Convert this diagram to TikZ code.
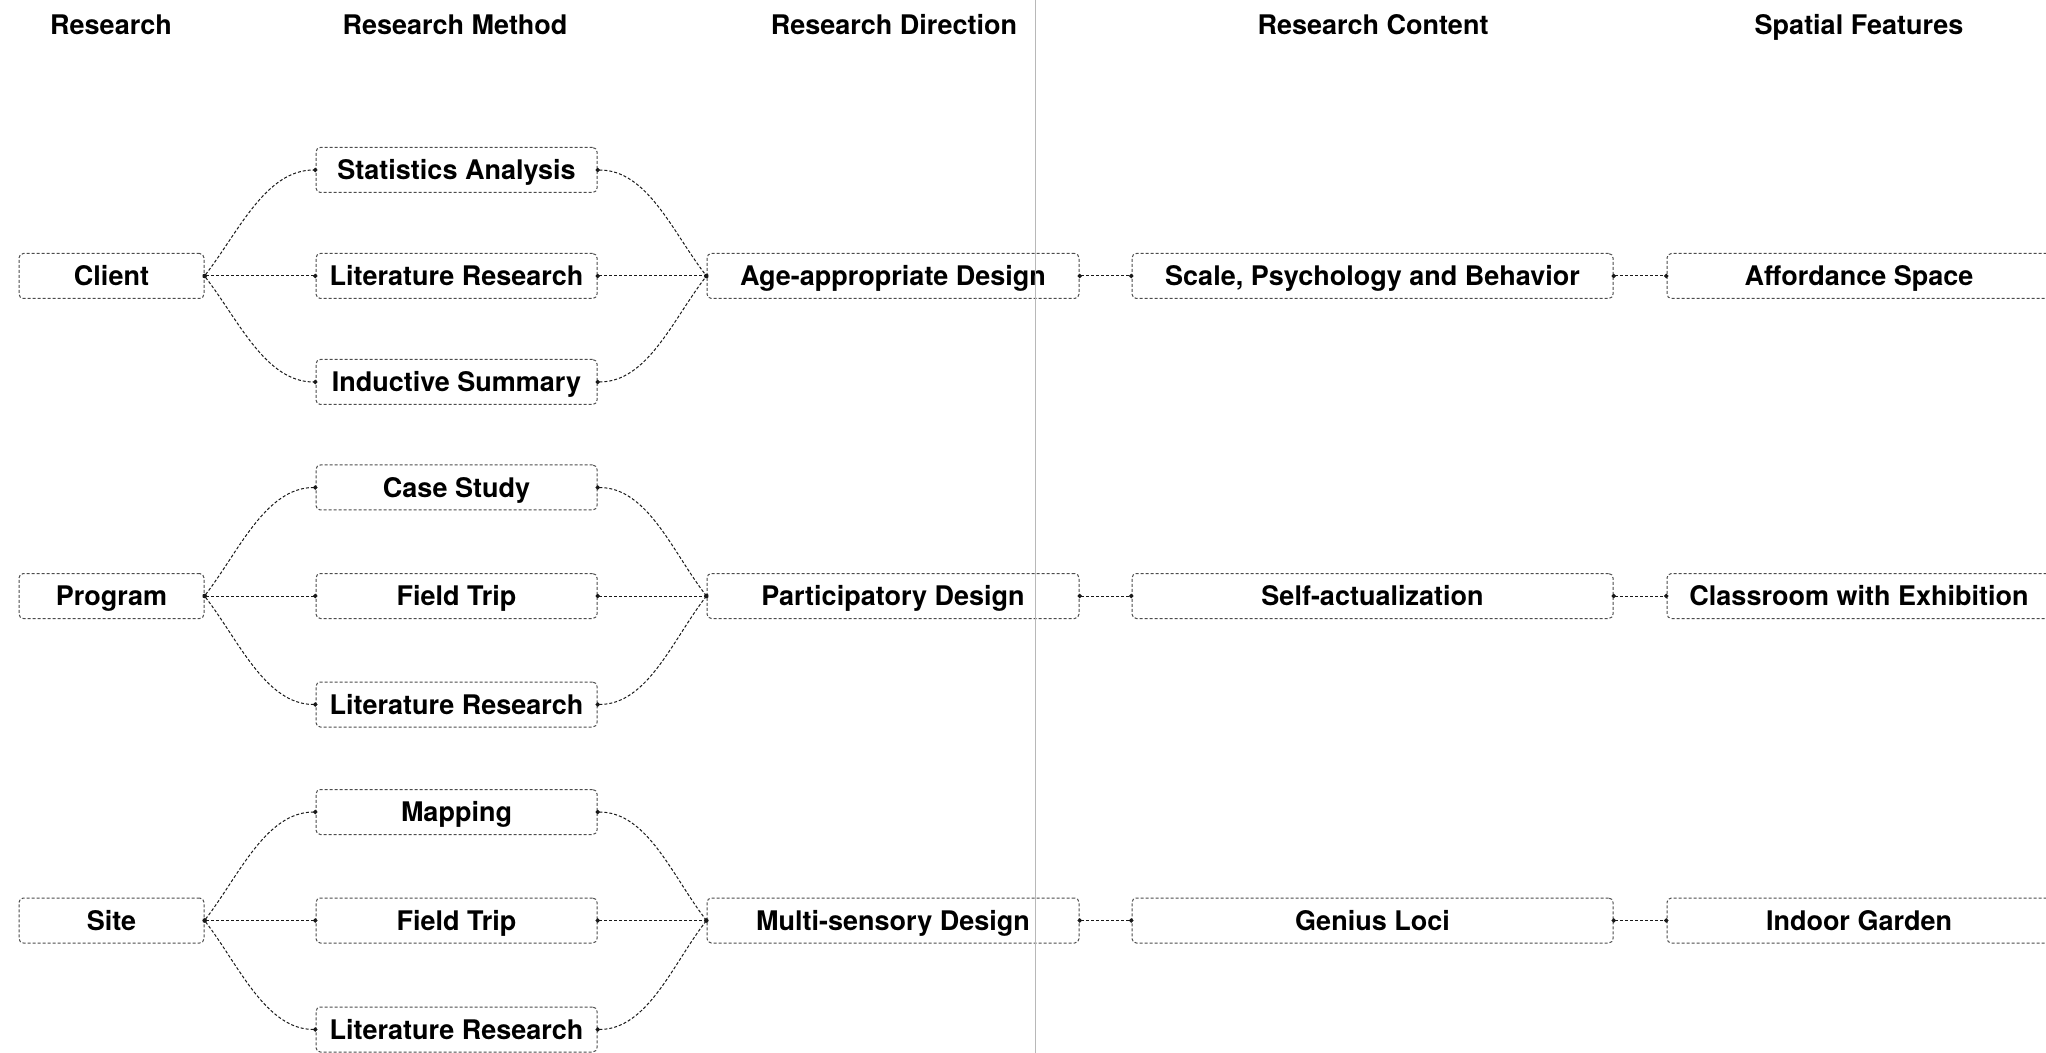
\documentclass[tikz,border=0pt]{standalone}
\usepackage{fontspec}
\setmainfont{TeX Gyre Heros}
\usetikzlibrary{arrows.meta}

\tikzset{
  lbl/.style={font=\bfseries\fontsize{13.5}{16}\selectfont, text=black,
              text height=11pt, text depth=1.3pt},
  box/.style={lbl, draw=black!70, line width=0.5pt, dash pattern=on 1.5pt off 1pt,
              rounded corners=2.2pt, minimum height=22.5pt, inner sep=0pt},
  colA/.style={box, minimum width=92.5pt},
  colB/.style={box, minimum width=140.5pt},
  colC/.style={box, minimum width=186pt},
  colD/.style={box, minimum width=240.5pt},
  colE/.style={box, minimum width=192pt},
  link/.style={draw=black!90, line width=0.5pt, dash pattern=on 1.5pt off 1pt,
               shorten <=-1pt, shorten >=-1pt,
               arrows={Circle[length=2.2pt]-Circle[length=2.2pt]}},
}

\begin{document}
\begin{tikzpicture}[x=0.5pt,y=-0.5pt]
\clip (0,0) rectangle (2046,1053);
\fill[white] (0,0) rectangle (2046,1053);

% column headings
\node[lbl] (h1) at (111,25) {Research};
\node[lbl] (h2) at (455,25) {Research Method};
\node[lbl] (h3) at (894,25) {Research Direction};
\node[lbl] (h4) at (1373,25) {Research Content};
\node[lbl] (h5) at (1859,25) {Spatial Features};

% research subjects
\node[colA] (cl) at (111.5,276) {Client};
\node[colA] (pr) at (111.5,596) {Program};
\node[colA] (si) at (111.5,920.5) {Site};

% methods
\node[colB] (m1) at (456.5,170) {Statistics Analysis};
\node[colB] (m2) at (456.5,276) {Literature Research};
\node[colB] (m3) at (456.5,382) {Inductive Summary};
\node[colB] (m4) at (456.5,487.5) {Case Study};
\node[colB] (m5) at (456.5,596) {Field Trip};
\node[colB] (m6) at (456.5,704.5) {Literature Research};
\node[colB] (m7) at (456.5,812) {Mapping};
\node[colB] (m8) at (456.5,920.5) {Field Trip};
\node[colB] (m9) at (456.5,1029.5) {Literature Research};

% directions
\node[colC] (d1) at (893,276) {Age-appropriate Design};
\node[colC] (d2) at (893,596) {Participatory Design};
\node[colC] (d3) at (893,920.5) {Multi-sensory Design};

% contents
\node[colD] (t1) at (1372.5,276) {Scale, Psychology and Behavior};
\node[colD] (t2) at (1372.5,596) {Self-actualization};
\node[colD] (t3) at (1372.5,920.5) {Genius Loci};

% spatial features
\node[colE] (s1) at (1859,276) {Affordance Space};
\node[colE] (s2) at (1859,596) {Classroom with Exhibition};
\node[colE] (s3) at (1859,920.5) {Indoor Garden};

% subject -> methods
\foreach \src/\up/\mid/\down in {cl/m1/m2/m3, pr/m4/m5/m6, si/m7/m8/m9}{
  \draw[link] (\src.east) .. controls +(34,-44) and +(-50,0) .. (\up.west);
  \draw[link] (\src.east) -- (\mid.west);
  \draw[link] (\src.east) .. controls +(34,44) and +(-50,0) .. (\down.west);
}

% methods -> direction
\foreach \up/\mid/\down/\dst in {m1/m2/m3/d1, m4/m5/m6/d2, m7/m8/m9/d3}{
  \draw[link] (\up.east) .. controls +(50,0) and +(-34,-44) .. (\dst.west);
  \draw[link] (\mid.east) -- (\dst.west);
  \draw[link] (\down.east) .. controls +(50,0) and +(-34,44) .. (\dst.west);
}

% direction -> content -> spatial feature
\foreach \a/\b/\c in {d1/t1/s1, d2/t2/s2, d3/t3/s3}{
  \draw[link] (\a.east) -- (\b.west);
  \draw[link] (\b.east) -- (\c.west);
}

% divider
\coordinate (divtop) at (1035,0);
\coordinate (divbot) at (1035,1053);
\draw[black!28, line width=0.5pt] (divtop) -- (divbot);
\end{tikzpicture}
\end{document}
